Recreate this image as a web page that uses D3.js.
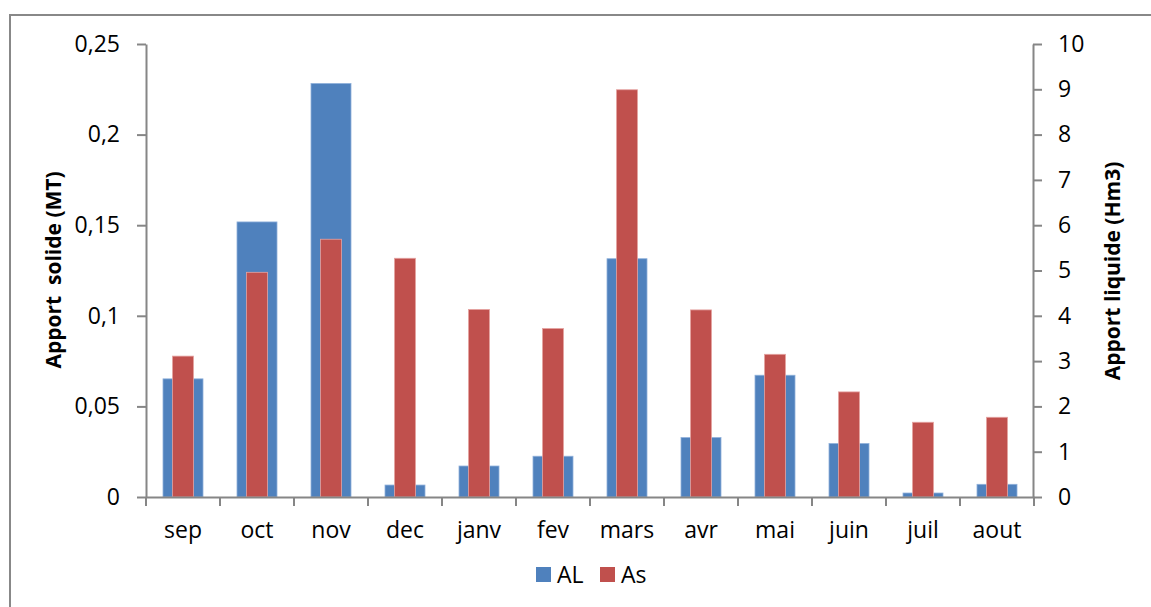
<!DOCTYPE html>
<html>
<head>
<meta charset="utf-8">
<script src="https://cdn.jsdelivr.net/npm/d3@7"></script>
<style>
  body { margin: 0; background: #fff; }
  svg text { font-family: "Open Sans", "Liberation Sans", sans-serif; fill: #000; }
  .axis path, .axis line { stroke: #868686; stroke-width: 2; }
</style>
</head>
<body>
<svg id="chart" width="1151" height="607"></svg>
<script>
// months on the x axis
const months = ["sep", "oct", "nov", "dec", "janv", "fev", "mars", "avr", "mai", "juin", "juil", "aout"];
// AL: left axis (MT)
const alValues = [0.0652, 0.1518, 0.2282, 0.0066, 0.0171, 0.0225, 0.1315, 0.0328, 0.0672, 0.0295, 0.0022, 0.0070];
// As: right axis (Hm3)
const asValues = [3.11, 4.96, 5.69, 5.27, 4.14, 3.72, 8.99, 4.13, 3.15, 2.32, 1.65, 1.76];
const leftTicks = [0, 0.05, 0.1, 0.15, 0.2, 0.25];
const rightTicks = [0, 1, 2, 3, 4, 5, 6, 7, 8, 9, 10];

const svg = d3.select("#chart");

// outer frame
svg.append("rect")
  .attr("x", 10).attr("y", 15)
  .attr("width", 1200).attr("height", 700)
  .attr("fill", "none")
  .attr("stroke", "#888")
  .attr("stroke-width", 2);

const plot = { left: 146, right: 1034, top: 44, bottom: 497 };

const x = d3.scaleBand()
  .domain(months)
  .range([plot.left, plot.right]);

const yLeft = d3.scaleLinear().domain([0, 0.25]).range([plot.bottom, plot.top]);
const yRight = d3.scaleLinear().domain([0, 10]).range([plot.bottom, plot.top]);

const fmt = d => d3.format("")(d).replace(".", ",");

// blue bars (wide, behind)
const blueW = 40;
svg.append("g").selectAll("rect")
  .data(months.map((m, i) => ({ m, v: alValues[i] })))
  .join("rect")
  .attr("x", d => x(d.m) + x.bandwidth() / 2 - blueW / 2)
  .attr("width", blueW)
  .attr("y", d => yLeft(d.v))
  .attr("height", d => plot.bottom - yLeft(d.v))
  .attr("fill", "#4F81BD")
  .attr("stroke", "#8fb0da")
  .attr("stroke-width", 0.8);

// red bars (narrow, in front)
const redW = 21;
svg.append("g").selectAll("rect")
  .data(months.map((m, i) => ({ m, v: asValues[i] })))
  .join("rect")
  .attr("x", d => x(d.m) + x.bandwidth() / 2 - redW / 2)
  .attr("width", redW)
  .attr("y", d => yRight(d.v))
  .attr("height", d => plot.bottom - yRight(d.v))
  .attr("fill", "#C0504D")
  .attr("stroke", "#e5a3a1")
  .attr("stroke-width", 0.8);

// left axis
const gl = svg.append("g")
  .attr("class", "axis")
  .attr("transform", `translate(${plot.left},0)`)
  .call(d3.axisLeft(yLeft).tickValues(leftTicks).tickFormat(fmt).tickSizeInner(9).tickSizeOuter(0).tickPadding(17));
gl.selectAll("text").style("font-size", "23px");

// right axis
const gr = svg.append("g")
  .attr("class", "axis")
  .attr("transform", `translate(${plot.right - 1},0)`)
  .call(d3.axisRight(yRight).tickValues(rightTicks).tickSizeInner(9).tickSizeOuter(0).tickPadding(16));
gr.selectAll("text").style("font-size", "23px");

// x axis, ticks between categories
const gx = svg.append("g")
  .attr("class", "axis")
  .attr("transform", `translate(0,${plot.bottom})`)
  .call(d3.axisBottom(x).tickSize(0).tickPadding(25));
gx.selectAll("text").style("font-size", "23px");
gx.selectAll(".sep")
  .data(d3.range(months.length + 1))
  .join("line")
  .attr("class", "sep")
  .attr("x1", i => plot.left + i * x.bandwidth())
  .attr("x2", i => plot.left + i * x.bandwidth())
  .attr("y1", 0).attr("y2", 9);

// axis titles
svg.append("text")
  .attr("transform", `translate(61,270) rotate(-90)`)
  .attr("text-anchor", "middle")
  .style("font-size", "21px")
  .style("font-weight", "bold")
  .style("white-space", "pre")
  .text("Apport  solide (MT)");

svg.append("text")
  .attr("transform", `translate(1120,271) rotate(-90)`)
  .attr("text-anchor", "middle")
  .style("font-size", "21px")
  .style("font-weight", "bold")
  .text("Apport liquide (Hm3)");

// legend
const legend = [{ name: "AL", color: "#4F81BD", x: 536 }, { name: "As", color: "#C0504D", x: 600 }];
const lg = svg.append("g").selectAll("g").data(legend).join("g")
  .attr("transform", d => `translate(${d.x},567)`);
lg.append("rect").attr("width", 15).attr("height", 15).attr("fill", d => d.color);
lg.append("text")
  .attr("x", 21).attr("y", 16)
  .style("font-size", "23px")
  .text(d => d.name);
</script>
</body>
</html>
